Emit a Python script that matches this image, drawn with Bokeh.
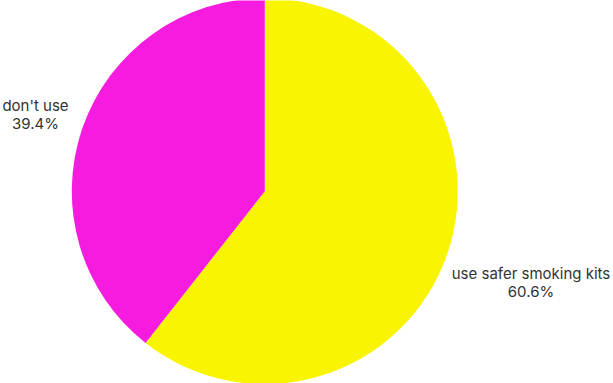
import math
from bokeh.plotting import figure
from bokeh.models import Range1d
from bokeh.core.properties import value
from bokeh.embed import file_html
from bokeh.resources import INLINE

categories = ["use safer smoking kits", "don't use"]
shares = [60.6, 39.4]
colors = ["#F9F500", "#F61CDF"]

W, H = 613, 383
p = figure(width=W, height=H, output_backend="svg", toolbar_location=None,
           x_range=Range1d(0, W), y_range=Range1d(0, H), min_border=0)
p.axis.visible = False
p.grid.visible = False
p.outline_line_color = None
p.background_fill_color = "white"
p.border_fill_color = "white"

cx, cy, r = 264.3, 192.3, 193
total = sum(shares)
start = math.pi / 2
starts, ends = [], []
for s in shares:
    a = 2 * math.pi * s / total
    starts.append(start)
    ends.append(start - a)
    start -= a

p.wedge(x=[cx] * len(shares), y=[cy] * len(shares), radius=r,
        start_angle=starts, end_angle=ends, direction="clock",
        fill_color=colors, line_color=None)

pct = [f"{s}%" for s in shares]
label_x = [530.5, 35]
label_y = [H - 281.5, H - 114]
common = dict(text_align="center", text_baseline="middle",
              text_font=value("Inter"), text_font_size="15px",
              text_color="#333333")
p.text(x=label_x, y=label_y, text=categories, y_offset=-9, **common)
p.text(x=label_x, y=label_y, text=pct, y_offset=9, **common)

open("out.html", "w").write(file_html(p, INLINE))
